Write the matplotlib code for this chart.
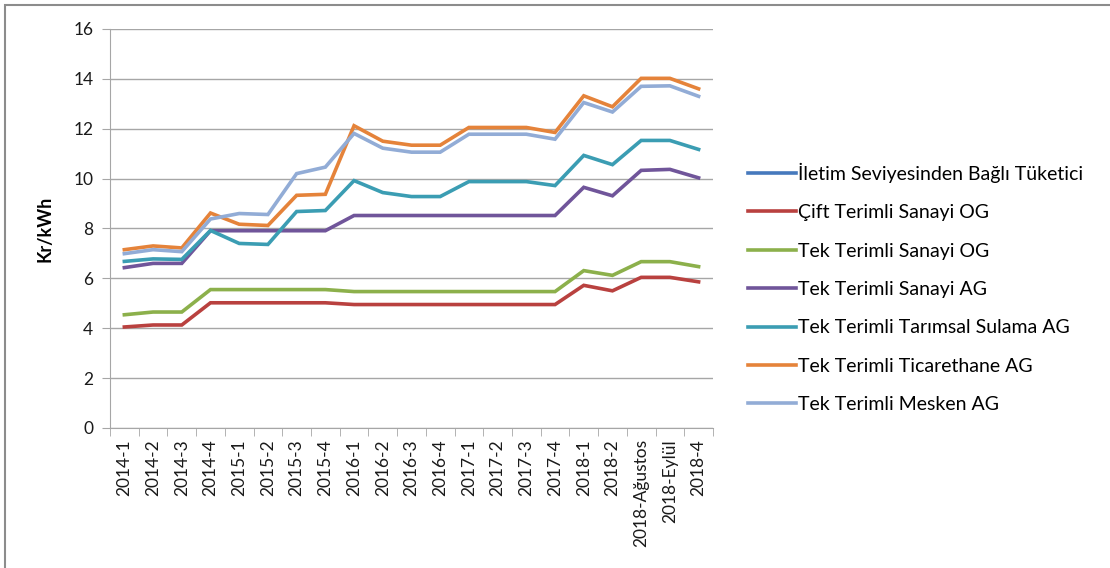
import numpy as np
import matplotlib
matplotlib.use('Agg')
import matplotlib.pyplot as plt
from matplotlib.patches import Rectangle

plt.rcParams['font.family'] = ['Lato', 'DejaVu Sans']

periods = ['2014-1', '2014-2', '2014-3', '2014-4', '2015-1', '2015-2', '2015-3',
           '2015-4', '2016-1', '2016-2', '2016-3', '2016-4', '2017-1', '2017-2',
           '2017-3', '2017-4', '2018-1', '2018-2', '2018-Ağustos', '2018-Eylül',
           '2018-4']

# no visible values for this series in the source, legend entry only
iletim = [np.nan] * 21
cift_og = [4.05, 4.13, 4.13, 5.02, 5.02, 5.02, 5.02, 5.02, 4.95, 4.95, 4.95,
           4.95, 4.95, 4.95, 4.95, 4.95, 5.72, 5.50, 6.04, 6.04, 5.86]
tek_og = [4.54, 4.65, 4.65, 5.55, 5.55, 5.55, 5.55, 5.55, 5.47, 5.47, 5.47,
          5.47, 5.47, 5.47, 5.47, 5.47, 6.31, 6.12, 6.67, 6.67, 6.47]
tek_ag = [6.43, 6.60, 6.60, 7.91, 7.91, 7.91, 7.91, 7.91, 8.52, 8.52, 8.52,
          8.52, 8.52, 8.52, 8.52, 8.52, 9.65, 9.31, 10.33, 10.37, 10.03]
tarim = [6.68, 6.78, 6.76, 7.92, 7.40, 7.36, 8.68, 8.72, 9.92, 9.44, 9.28,
         9.28, 9.88, 9.88, 9.88, 9.72, 10.93, 10.56, 11.53, 11.53, 11.17]
ticaret = [7.15, 7.30, 7.22, 8.62, 8.17, 8.12, 9.33, 9.37, 12.12, 11.50, 11.34,
           11.34, 12.05, 12.05, 12.05, 11.85, 13.32, 12.88, 14.02, 14.02, 13.60]
mesken = [6.99, 7.15, 7.07, 8.38, 8.60, 8.56, 10.20, 10.46, 11.81, 11.22, 11.06,
          11.06, 11.78, 11.78, 11.78, 11.58, 13.05, 12.67, 13.70, 13.72, 13.30]

series = [
    ('İletim Seviyesinden Bağlı Tüketici', iletim, '#4679BD'),
    ('Çift Terimli Sanayi OG', cift_og, '#B9413F'),
    ('Tek Terimli Sanayi OG', tek_og, '#8CB04B'),
    ('Tek Terimli Sanayi AG', tek_ag, '#70559A'),
    ('Tek Terimli Tarımsal Sulama AG', tarim, '#3B9DB3'),
    ('Tek Terimli Ticarethane AG', ticaret, '#E5833A'),
    ('Tek Terimli Mesken AG', mesken, '#92ACD6'),
]

fig = plt.figure(figsize=(11.1, 5.68), dpi=100)
fig.patches.append(Rectangle((5 / 1110, -0.1), 1.2, 1 - 5 / 568 + 0.1,
                             transform=fig.transFigure, fill=False,
                             edgecolor='#8c8c8c', linewidth=1.5))
ax = fig.add_axes([0.0991, 0.2465, 0.5432, 0.7025])

xs = np.arange(len(periods))
for label, vals, color in series:
    ax.plot(xs, vals, color=color, linewidth=2.6, label=label,
            solid_joinstyle='miter')

ax.set_xlim(-0.5, len(periods) - 0.5)
ax.set_ylim(0, 16)
ax.set_yticks(range(0, 17, 2))
ax.yaxis.grid(True, color='#a6a6a6', linewidth=1)
ax.set_axisbelow(True)
ax.set_xticks(xs)
ax.set_xticklabels(periods, rotation=90, fontsize=12.5, color='#1a1a1a')
ax.set_xticks(np.arange(-0.5, len(periods)), minor=True)
ax.tick_params(axis='x', which='major', length=0, pad=8)
ax.tick_params(axis='x', which='minor', length=6, color='#a6a6a6')
ax.tick_params(axis='y', length=6, color='#a6a6a6', labelsize=12.5,
               labelcolor='#1a1a1a', pad=6)
for s in ['top', 'right']:
    ax.spines[s].set_visible(False)
for s in ['left', 'bottom']:
    ax.spines[s].set_color('#a6a6a6')
ax.set_ylabel('Kr/kWh', fontsize=13, fontweight='bold', labelpad=14)

ax.legend(loc='center left', bbox_to_anchor=(1.045, 0.351), frameon=False,
          fontsize=14, handlelength=2.45, handletextpad=0.15,
          labelspacing=1.1, borderaxespad=0)

plt.savefig('out.png', dpi=100)
plt.close()
